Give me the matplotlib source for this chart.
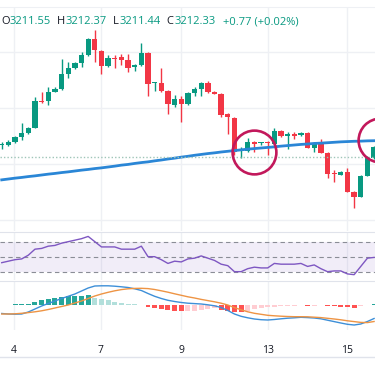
import numpy as np
import matplotlib.pyplot as plt
from matplotlib.lines import Line2D

plt.rcParams['font.family'] = ['Open Sans', 'DejaVu Sans']

# ---- data (one entry per candle) ----
opens = [3212.42, 3212.45, 3212.66, 3213.01, 3213.29, 3213.64, 3215.53, 3215.53, 3216.16, 3216.37,
         3217.42, 3217.84, 3218.19, 3218.75, 3219.87, 3219.03, 3217.98, 3218.54, 3218.61, 3218.40,
         3217.91, 3218.05, 3218.89, 3216.76, 3216.79, 3216.23, 3215.25, 3215.67, 3215.32, 3216.09,
         3216.37, 3216.79, 3216.16, 3216.02, 3214.62, 3214.34, 3212.03, 3212.03, 3212.64, 3212.56,
         3212.63, 3212.52, 3213.43, 3213.08, 3213.22, 3213.12, 3213.29, 3212.24, 3212.59, 3211.89,
         3210.46, 3210.35, 3210.56, 3209.16, 3208.81, 3210.28, 3211.55]
highs = [3212.66, 3212.77, 3213.08, 3213.99, 3213.71, 3215.81, 3216.16, 3216.51, 3216.51, 3218.47,
         3218.26, 3218.26, 3218.96, 3219.94, 3220.50, 3219.10, 3218.75, 3218.75, 3218.82, 3218.82,
         3218.12, 3219.59, 3218.96, 3216.86, 3217.84, 3216.30, 3215.95, 3215.88, 3216.16, 3216.51,
         3216.86, 3216.93, 3216.20, 3216.09, 3214.69, 3214.41, 3212.31, 3212.94, 3212.73, 3212.68,
         3212.75, 3213.64, 3213.47, 3213.36, 3213.36, 3213.33, 3213.33, 3212.63, 3212.87, 3211.93,
         3210.70, 3210.60, 3210.84, 3209.20, 3210.32, 3211.65, 3212.37]
lows = [3212.17, 3212.38, 3212.59, 3212.80, 3213.22, 3213.61, 3215.39, 3215.25, 3216.13, 3216.30,
        3217.14, 3217.77, 3217.91, 3218.68, 3218.26, 3217.42, 3217.91, 3217.84, 3218.05, 3217.56,
        3217.63, 3217.98, 3215.88, 3216.23, 3216.16, 3214.62, 3215.11, 3214.06, 3215.25, 3215.88,
        3215.88, 3216.09, 3215.99, 3214.41, 3213.22, 3211.75, 3211.54, 3211.96, 3211.98, 3212.45,
        3211.75, 3212.49, 3213.01, 3212.17, 3212.87, 3213.05, 3212.21, 3211.96, 3211.86, 3210.14,
        3209.86, 3210.32, 3209.13, 3208.04, 3208.78, 3210.25, 3211.44]
closes = [3212.52, 3212.68, 3213.01, 3213.29, 3213.64, 3215.53, 3215.46, 3216.16, 3216.37, 3217.42,
          3217.84, 3218.19, 3218.75, 3219.87, 3219.10, 3217.98, 3218.54, 3218.48, 3218.40, 3217.84,
          3218.05, 3218.89, 3216.72, 3216.82, 3216.23, 3215.32, 3215.67, 3215.32, 3216.09, 3216.37,
          3216.79, 3216.16, 3216.02, 3214.55, 3214.41, 3211.96, 3212.10, 3212.66, 3212.50, 3212.63,
          3212.57, 3213.43, 3213.08, 3213.22, 3213.08, 3213.29, 3212.24, 3212.59, 3211.89, 3210.42,
          3210.39, 3210.56, 3209.16, 3208.81, 3210.28, 3211.61, 3212.33]
ma_line = [3210.01, 3210.07, 3210.13, 3210.18, 3210.24, 3210.29, 3210.35, 3210.41, 3210.46, 3210.52,
           3210.57, 3210.63, 3210.69, 3210.74, 3210.80, 3210.85, 3210.91, 3210.97, 3211.04, 3211.09,
           3211.16, 3211.22, 3211.27, 3211.34, 3211.40, 3211.47, 3211.53, 3211.60, 3211.66, 3211.73,
           3211.79, 3211.85, 3211.90, 3211.96, 3212.01, 3212.06, 3212.11, 3212.16, 3212.20, 3212.24,
           3212.28, 3212.32, 3212.37, 3212.41, 3212.45, 3212.49, 3212.52, 3212.56, 3212.58, 3212.61,
           3212.64, 3212.67, 3212.69, 3212.71, 3212.72, 3212.74, 3212.75]
prev_close = 3211.59

rsi = [42, 44, 46, 47, 52, 60, 61, 64, 65, 68, 70, 72, 74, 77, 70, 63, 63, 63, 60, 60,
       60, 64, 50, 50, 46, 41, 44, 43, 47, 48, 51, 48, 45, 40, 38, 30, 30, 34, 36, 35,
       35, 41, 40, 40, 40, 41, 37, 39, 34, 30, 31, 31, 27, 26, 37, 48, 49]

macd = [-0.085, -0.09, -0.092, -0.09, -0.07, -0.04, -0.01, 0.015, 0.04, 0.065,
        0.087, 0.11, 0.14, 0.17, 0.19, 0.192, 0.192, 0.188, 0.182, 0.175,
        0.162, 0.145, 0.115, 0.087, 0.065, 0.047, 0.035, 0.025, 0.018, 0.014,
        0.01, 0.002, -0.008, -0.025, -0.055, -0.09, -0.113, -0.128, -0.14, -0.147,
        -0.15, -0.145, -0.138, -0.132, -0.128, -0.123, -0.126, -0.13, -0.138, -0.152,
        -0.166, -0.18, -0.193, -0.2, -0.19, -0.165, -0.135]
signal = [-0.09, -0.09, -0.088, -0.083, -0.076, -0.068, -0.058, -0.045, -0.03, -0.015,
          0.0, 0.02, 0.04, 0.065, 0.09, 0.11, 0.127, 0.142, 0.154, 0.162,
          0.166, 0.167, 0.164, 0.155, 0.142, 0.128, 0.112, 0.097, 0.082, 0.07,
          0.056, 0.044, 0.032, 0.018, 0.0, -0.026, -0.048, -0.068, -0.083, -0.093,
          -0.103, -0.108, -0.112, -0.115, -0.117, -0.117, -0.118, -0.122, -0.126, -0.133,
          -0.14, -0.148, -0.158, -0.166, -0.174, -0.176, -0.165]
hist = [0.003, 0.005, 0.007, 0.008, 0.012, 0.033, 0.05, 0.063, 0.073, 0.08,
        0.087, 0.09, 0.092, 0.1, 0.073, 0.06, 0.05, 0.033, 0.023, 0.013,
        0.007, 0.003, -0.017, -0.027, -0.04, -0.05, -0.057, -0.06, -0.058, -0.055,
        -0.05, -0.04, -0.033, -0.045, -0.055, -0.065, -0.073, -0.057, -0.043, -0.033,
        -0.023, -0.017, -0.011, -0.01, -0.007, -0.003, -0.01, -0.005, -0.004, -0.01,
        -0.013, -0.016, -0.02, -0.033, -0.01, 0.005, 0.015]

day_ticks = [1.85, 14.9, 27.0, 40.0, 52.0]
day_labels = ['4', '7', '9', '13', '15']
circle_x = [37.9, 56.9]
circle_y = [3211.98, 3212.80]

# ---- styling ----
GREEN = '#089981'
RED = '#f23645'
GRID = '#eef0f4'
BORDER = '#e0e3eb'
W, H = 375, 366


def box(top, bottom):
    return [0, 1 - bottom / H, 1, (bottom - top) / H]


fig = plt.figure(figsize=(W / 100, H / 100), dpi=100)
ax = fig.add_axes(box(7, 231))
ax_rsi = fig.add_axes(box(232, 280))
ax_macd = fig.add_axes(box(281, 330))

x = np.arange(len(closes))
o = np.array(opens)
c = np.array(closes)
cols = np.where(c >= o, GREEN, RED)

for a in (ax, ax_rsi, ax_macd):
    a.set_xlim(-0.26, 56.14)
    a.set_xticks(day_ticks)
    a.grid(axis='x', color=GRID, lw=1)
    a.tick_params(left=False, labelleft=False, bottom=False, labelbottom=False)
    for s in a.spines.values():
        s.set_visible(False)
    a.set_axisbelow(True)

# price pane
ax.set_ylim(3206.43, 3222.11)
ax.set_yticks([3207.20, 3211.12, 3215.04, 3218.96])
ax.grid(axis='y', color=GRID, lw=1)
ax.spines['top'].set_visible(True)
ax.spines['top'].set_color(GRID)
ax.vlines(x, lows, highs, color=cols, lw=1)
ax.bar(x, np.maximum(np.abs(c - o), 0.07), bottom=np.minimum(o, c), width=0.8, color=cols, lw=0)
ax.plot(x, ma_line, color='#2a86d6', lw=2)
ax.axhline(prev_close, color='#9fc5b8', lw=1, ls=(0, (1, 1.5)))
ax.plot(circle_x, circle_y, 'o', ms=31.5, mfc='none', mec='#c2185b', mew=1.9)

# RSI pane
ax_rsi.set_ylim(18.9, 82.9)
ax_rsi.axhspan(30, 70, color='#7e57c2', alpha=0.1, lw=0)
for lvl in (30, 50, 70):
    ax_rsi.axhline(lvl, color='#8a8d96', lw=0.8, ls=(0, (4, 3)))
ax_rsi.plot(x, rsi, color='#7e57c2', lw=1)
ax_rsi.spines['top'].set_visible(True)
ax_rsi.spines['top'].set_color(BORDER)

# MACD pane
ax_macd.set_ylim(-0.25, 0.24)
h = np.array(hist)
prev = np.concatenate([[0], h[:-1]])
hcols = np.where(h >= 0,
                 np.where(h >= prev, '#26a69a', '#b2dfdb'),
                 np.where(h < prev, '#ff5252', '#ffcdd2'))
ax_macd.bar(x, h, width=0.75, color=hcols, lw=0)
ax_macd.plot(x, macd, color='#3d8fd8', lw=1)
ax_macd.plot(x, signal, color='#ee9444', lw=1)
ax_macd.spines['top'].set_visible(True)
ax_macd.spines['top'].set_color(BORDER)
ax_macd.set_xticks(day_ticks, day_labels)
ax_macd.tick_params(labelbottom=True, pad=7, labelsize=7.5, labelcolor='#131722')

fig.add_artist(Line2D([0, 1], [1 - 357 / H] * 2, color=BORDER, lw=1))

# header
hy = 1 - 22 / H
parts = [(1.5, 'O', '#131722'), (9.5, '3211.55', GREEN), (57, 'H', '#131722'), (65.5, '3212.37', GREEN),
         (113, 'L', '#131722'), (119.5, '3211.44', GREEN), (166, 'C', '#131722'),
         (174.5, '3212.33', GREEN), (223, '+0.77 (+0.02%)', GREEN)]
for px, txt, col in parts:
    fig.text(px / W, hy, txt, color=col, fontsize=8, va='center', ha='left')

fig.savefig('out.png', dpi=100)
